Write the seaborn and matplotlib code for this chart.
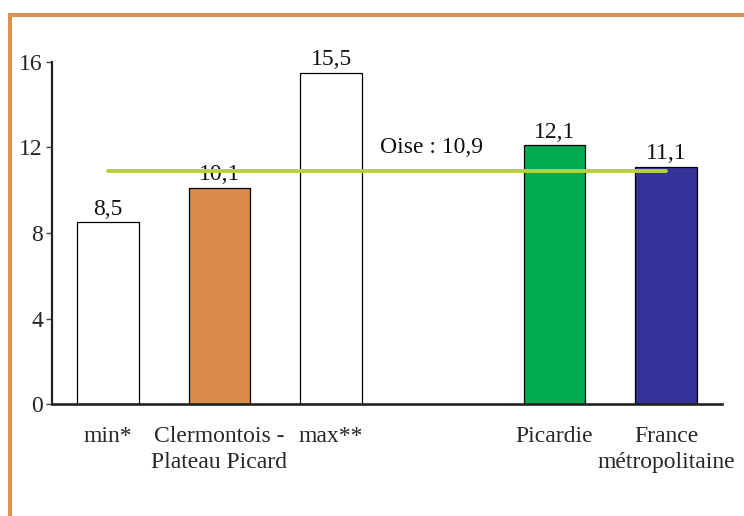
import matplotlib
matplotlib.use("Agg")
import matplotlib.pyplot as plt
import seaborn as sns
import pandas as pd
from matplotlib.lines import Line2D

categories = ["min*", "Clermontois -\nPlateau Picard", "max**", "Picardie", "France\nmétropolitaine"]
values = [8.5, 10.1, 15.5, 12.1, 11.1]
colors = ["#FFFFFF", "#D98C4A", "#FFFFFF", "#00AA4F", "#333399"]
order = ["min*", "Clermontois -\nPlateau Picard", "max**", " ", "Picardie", "France\nmétropolitaine"]
oise_value = 10.9
oise_label = "Oise : 10,9"
yticks = [0, 4, 8, 12, 16]

sns.set_theme(style="white")
plt.rcParams["font.family"] = ["Liberation Serif", "DejaVu Serif"]

FS = 17

df = pd.DataFrame({"cat": categories, "val": values})
fig = plt.figure(figsize=(7.44, 5.16), dpi=100)
ax = fig.add_axes([0.0699, 0.217, 0.9005, 0.663])

sns.barplot(data=df, x="cat", y="val", hue="cat", order=order,
            palette=dict(zip(categories, colors)), width=0.55,
            edgecolor="black", linewidth=0.9, legend=False, ax=ax, saturation=1)

for cat, v in zip(categories, values):
    xi = order.index(cat)
    ax.text(xi, v + 0.36, f"{v:.1f}".replace(".", ","), ha="center", va="baseline",
            fontsize=FS, color="#111111", zorder=4)

ax.plot([0, len(order) - 1], [oise_value, oise_value], color="#B5D334", lw=2.8,
        solid_capstyle="round", zorder=6)
ax.text(2.9, oise_value + 0.85, oise_label, ha="center", va="baseline", fontsize=FS,
        color="#111111")

ax.set_xlim(-0.5, len(order) - 0.5)
ax.set_ylim(0, 16)
ax.set_yticks(yticks)
ax.set_yticklabels([str(t) for t in yticks], fontsize=FS)
ax.set_xticks(range(len(order)))
ax.set_xticklabels(order, fontsize=FS, linespacing=1.3)
ax.tick_params(axis="x", length=0, pad=16)
ax.tick_params(axis="y", length=4.5, width=1, color="#444444", direction="out", pad=2, left=True)
ax.set_xlabel("")
ax.set_ylabel("")
for s in ["top", "right"]:
    ax.spines[s].set_visible(False)
ax.spines["left"].set_color("#222222")
ax.spines["left"].set_linewidth(1.6)
ax.spines["bottom"].set_color("#222222")
ax.spines["bottom"].set_linewidth(1.9)

orange = "#E0914E"
fig.add_artist(Line2D([9.5/744, 1.0], [1 - 15/516, 1 - 15/516], color=orange, lw=2.9,
                      transform=fig.transFigure, solid_capstyle="butt"))
fig.add_artist(Line2D([9.5/744, 9.5/744], [0, 1 - 15/516], color=orange, lw=2.9,
                      transform=fig.transFigure, solid_capstyle="projecting"))

fig.savefig("out.png", dpi=100)
